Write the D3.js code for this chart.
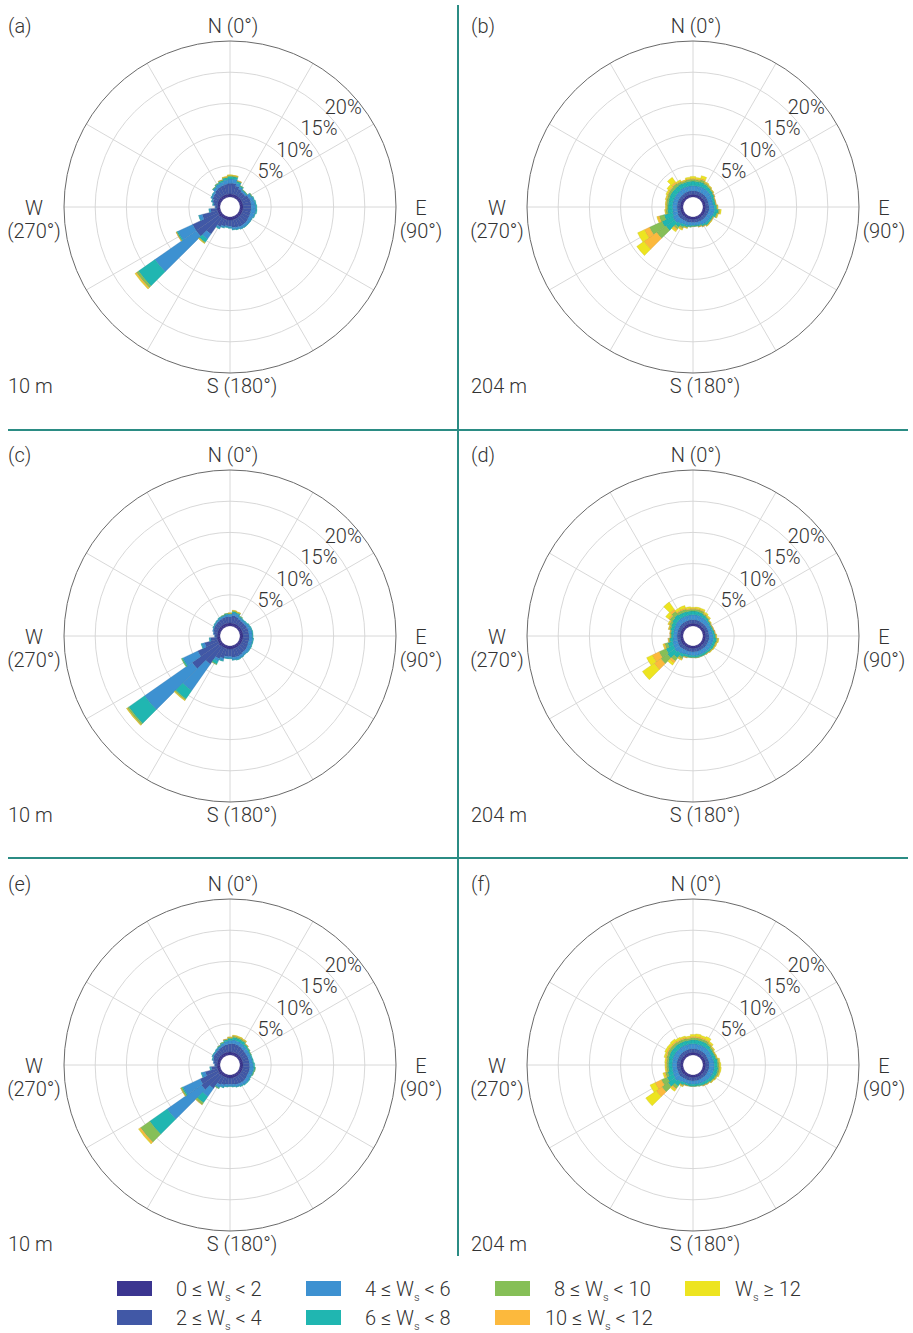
<!DOCTYPE html>
<html>
<head>
<meta charset="utf-8">
<script src="https://cdn.jsdelivr.net/npm/d3@7"></script>
<style>
  body { margin: 0; background: #fff; }
  svg text { font-family: Roboto, "Open Sans", sans-serif; font-weight: 300; fill: #333; }
</style>
</head>
<body>
<script>
// wind direction bins (deg, bin centre), 10 deg wide
const directions = [0,10,20,30,40,50,60,70,80,90,100,110,120,130,140,150,160,170,
                    180,190,200,210,220,230,240,250,260,270,280,290,300,310,320,330,340,350];

const speedKeys = ["c1","c2","c3","c4","c5","c6","c7"];
const speedColors = ["#3b3590","#4158a6","#3d91d1","#20b6b1","#86bf57","#fcb93d","#ede420"];
const legendPre = ["0 \u2264 W","2 \u2264 W","4 \u2264 W","6 \u2264 W","8 \u2264 W","10 \u2264 W","W"];
const legendPost = [" < 2"," < 4"," < 6"," < 8"," < 10"," < 12"," \u2265 12"];

const freqTicks = [5, 10, 15, 20];
const freqLabels = ["5%", "10%", "15%", "20%"];
const spokeAngles = [0,30,60,90,120,150,180,210,240,270,300,330];

// frequencies (%) per speed class, one value per direction
// (a) 10 m
const a_c1 = [0.5,0.5,0.5,0.5,0.5,0.5,0.5,0.5,0.5,0.5,0.5,0.5,0.5,0.5,0.5,0.5,0.5,0.5,0.5,0.5,0.5,0.5,0.5,0.6,0.5,0.5,0.5,0.4,0.4,0.45,0.5,0.5,0.5,0.5,0.5,0.5];
const a_c2 = [1.7,1.7,1.4,1.1,0.9,0.9,1.2,1.3,1.3,1.3,1.3,1.3,1.3,1.4,1.4,1.4,1.3,1.2,1.0,0.95,1.1,1.4,3.2,4.4,4.5,2.5,1.0,0.35,0.6,0.8,1.0,1.05,1.3,1.45,1.5,1.6];
const a_c3 = [0.7,0.7,0.5,0.4,0.3,0.3,0.45,0.55,0.65,0.75,0.8,0.7,0.55,0.45,0.45,0.4,0.35,0.35,0.25,0.2,0.25,0.3,1.0,8.1,2.6,0.55,0.25,0.05,0.15,0.2,0.25,0.3,0.45,0.5,0.55,0.65];
const a_c4 = [0.4,0.35,0.25,0.15,0.1,0.1,0.12,0.12,0.15,0.15,0.15,0.1,0.05,0.05,0.05,0.05,0.05,0.05,0.05,0.05,0.05,0.1,0.6,3.2,0.2,0.05,0.05,0,0.05,0.05,0.05,0.05,0.1,0.15,0.25,0.35];
const a_c5 = [0.15,0.15,0.1,0.05,0.05,0.03,0.03,0,0,0,0,0,0,0,0,0,0,0,0,0,0,0,0.15,0.4,0.1,0,0,0,0,0,0,0,0.05,0.05,0.1,0.1];
const a_c6 = [0.05,0.05,0.05,0,0,0,0,0,0,0,0,0,0,0,0,0,0,0,0,0,0,0,0.05,0.2,0.05,0,0,0,0,0,0,0,0,0,0.03,0.05];
const a_c7 = [0.05,0.05,0,0,0,0,0,0,0,0,0,0,0,0,0,0,0,0,0,0,0,0,0.05,0.1,0,0,0,0,0,0,0,0,0,0,0,0.05];

// (b) 204 m
const b_c1 = [0.45,0.45,0.45,0.45,0.45,0.45,0.45,0.45,0.45,0.45,0.45,0.45,0.45,0.45,0.45,0.45,0.45,0.45,0.45,0.45,0.45,0.45,0.45,0.5,0.5,0.45,0.45,0.45,0.45,0.45,0.45,0.45,0.45,0.45,0.45,0.45];
const b_c2 = [0.55,0.55,0.55,0.55,0.55,0.55,0.55,0.5,0.5,0.55,0.55,0.55,0.5,0.5,0.5,0.5,0.45,0.45,0.45,0.45,0.5,0.5,0.55,0.6,0.6,0.55,0.5,0.5,0.5,0.5,0.5,0.5,0.5,0.55,0.55,0.55];
const b_c3 = [0.8,0.8,0.85,0.85,0.85,0.8,0.75,0.7,0.7,0.8,0.9,0.85,0.7,0.7,0.7,0.6,0.5,0.45,0.45,0.5,0.55,0.6,0.75,0.9,0.9,0.8,0.75,0.75,0.75,0.75,0.75,0.75,0.75,0.8,0.8,0.8];
const b_c4 = [0.75,0.7,0.75,0.6,0.5,0.45,0.4,0.35,0.35,0.4,0.6,0.45,0.3,0.3,0.35,0.25,0.2,0.15,0.15,0.2,0.25,0.4,0.6,1.7,1.9,1.4,0.8,0.7,0.7,0.75,0.8,0.8,0.8,0.75,0.7,0.75];
const b_c5 = [0.3,0.3,0.35,0.25,0.2,0.15,0.1,0.1,0.1,0.1,0.2,0.15,0.1,0.1,0.1,0.1,0.1,0.05,0.05,0.05,0.1,0.25,0.4,1.8,2.2,0.8,0.3,0.25,0.3,0.3,0.35,0.4,0.5,0.35,0.25,0.3];
const b_c6 = [0.15,0.15,0.2,0.1,0.1,0.05,0.05,0.05,0.05,0.05,0.1,0.05,0.05,0.05,0.05,0.05,0.05,0,0,0,0.05,0.15,0.3,2.5,0.9,0.3,0.1,0.1,0.1,0.15,0.15,0.2,0.3,0.15,0.1,0.15];
const b_c7 = [0.3,0.2,0.45,0.1,0.05,0.05,0,0,0,0.05,0.15,0.1,0,0.05,0.05,0,0,0,0,0,0.05,0.15,0.2,1.4,1.2,0.1,0.05,0.05,0.05,0.1,0.2,0.4,0.9,0.15,0.05,0.2];

// (c) 10 m
const c_c1 = [0.5,0.5,0.5,0.5,0.5,0.5,0.5,0.5,0.5,0.5,0.5,0.5,0.5,0.5,0.5,0.5,0.5,0.5,0.5,0.5,0.5,0.5,0.5,0.6,0.5,0.5,0.5,0.45,0.45,0.45,0.5,0.5,0.5,0.5,0.5,0.5];
const c_c2 = [1.0,1.2,1.1,0.9,0.85,0.85,0.9,0.95,0.95,0.95,1.0,1.0,1.1,1.2,1.2,1.3,1.4,1.35,1.2,1.2,1.6,1.9,3.4,5.2,3.6,2.1,1.0,0.35,0.55,0.7,0.75,0.8,0.85,0.9,0.95,1.0];
const c_c3 = [0.35,0.45,0.45,0.35,0.3,0.35,0.45,0.5,0.55,0.55,0.6,0.6,0.55,0.5,0.45,0.45,0.45,0.4,0.3,0.3,0.4,0.5,5.2,9.3,2.6,0.5,0.2,0.05,0.1,0.15,0.15,0.2,0.25,0.3,0.3,0.35];
const c_c4 = [0.15,0.2,0.2,0.15,0.1,0.1,0.1,0.1,0.1,0.1,0.1,0.1,0.1,0.05,0.05,0.05,0.05,0.05,0.05,0.05,0.1,0.5,1.6,3.1,0.2,0.1,0.05,0,0,0,0.05,0.05,0.05,0.1,0.1,0.15];
const c_c5 = [0.05,0.1,0.1,0.05,0,0,0,0,0,0,0,0,0,0,0,0,0,0,0,0,0,0.1,0.2,0.3,0.1,0,0,0,0,0,0,0,0,0,0.02,0.05];
const c_c6 = [0.03,0.05,0.05,0,0,0,0,0,0,0,0,0,0,0,0,0,0,0,0,0,0,0,0.1,0.1,0,0,0,0,0,0,0,0,0,0,0,0];
const c_c7 = [0.02,0.05,0.03,0,0,0,0,0,0,0,0,0,0,0,0,0,0,0,0,0,0,0,0.05,0.05,0,0,0,0,0,0,0,0,0,0,0,0];

// (d) 204 m
const d_c1 = [0.45,0.45,0.45,0.45,0.45,0.45,0.45,0.45,0.45,0.45,0.45,0.45,0.45,0.45,0.45,0.45,0.45,0.45,0.45,0.45,0.45,0.45,0.45,0.5,0.5,0.45,0.45,0.45,0.45,0.45,0.45,0.45,0.45,0.45,0.45,0.45];
const d_c2 = [0.55,0.55,0.55,0.5,0.5,0.5,0.5,0.5,0.5,0.55,0.55,0.55,0.55,0.55,0.5,0.5,0.5,0.5,0.5,0.5,0.5,0.5,0.55,0.6,0.55,0.55,0.5,0.5,0.5,0.5,0.5,0.55,0.55,0.55,0.55,0.55];
const d_c3 = [0.8,0.8,0.8,0.75,0.7,0.6,0.55,0.55,0.6,0.65,0.75,0.7,0.7,0.65,0.65,0.65,0.65,0.65,0.6,0.6,0.6,0.7,0.8,0.9,0.85,0.8,0.7,0.6,0.6,0.65,0.7,0.75,0.8,0.8,0.8,0.8];
const d_c4 = [0.6,0.6,0.55,0.45,0.35,0.25,0.2,0.25,0.3,0.35,0.45,0.4,0.4,0.35,0.3,0.3,0.3,0.3,0.3,0.3,0.35,0.5,0.9,1.4,1.3,0.8,0.5,0.35,0.4,0.5,0.6,0.7,0.8,0.65,0.65,0.6];
const d_c5 = [0.3,0.3,0.3,0.2,0.15,0.1,0.1,0.1,0.1,0.1,0.2,0.15,0.1,0.1,0.1,0.05,0.05,0.05,0.05,0.05,0.1,0.3,0.6,1.3,1.2,0.5,0.2,0.15,0.15,0.25,0.35,0.5,0.65,0.4,0.4,0.3];
const d_c6 = [0.15,0.15,0.15,0.1,0.1,0.05,0.05,0.05,0.05,0.05,0.1,0.1,0.05,0.05,0.05,0,0,0,0,0,0.05,0.15,0.4,1.3,1.2,0.2,0.1,0.05,0.05,0.1,0.15,0.25,0.4,0.2,0.2,0.15];
const d_c7 = [0.15,0.2,0.2,0.2,0.15,0.05,0,0,0,0.05,0.05,0.05,0.05,0.05,0,0,0,0,0,0,0,0.1,0.4,2.3,1.0,0.1,0,0,0,0.05,0.1,0.55,1.4,0.35,0.4,0.25];

// (e) 10 m
const e_c1 = [0.5,0.5,0.5,0.5,0.5,0.5,0.5,0.5,0.5,0.5,0.5,0.5,0.5,0.5,0.5,0.5,0.5,0.5,0.5,0.5,0.5,0.5,0.5,0.6,0.5,0.5,0.5,0.45,0.45,0.45,0.5,0.5,0.5,0.5,0.5,0.5];
const e_c2 = [1.3,1.35,1.3,1.2,1.1,1.0,1.0,1.0,1.0,1.05,1.1,1.1,1.1,1.2,1.25,1.2,1.15,1.05,1.0,1.05,1.2,1.4,2.5,3.4,3.2,2.0,0.9,0.35,0.55,0.75,0.85,0.85,0.9,1.0,1.1,1.2];
const e_c3 = [0.55,0.6,0.6,0.6,0.55,0.55,0.5,0.5,0.55,0.6,0.65,0.6,0.55,0.55,0.5,0.45,0.4,0.35,0.3,0.35,0.4,0.5,1.6,6.7,3.0,0.6,0.2,0.05,0.1,0.15,0.2,0.2,0.25,0.3,0.4,0.5];
const e_c4 = [0.3,0.4,0.4,0.4,0.3,0.25,0.15,0.15,0.15,0.2,0.2,0.15,0.1,0.1,0.1,0.1,0.05,0.05,0.05,0.05,0.1,0.15,1.2,3.4,0.2,0.1,0.05,0,0,0.05,0.05,0.05,0.1,0.1,0.15,0.25];
const e_c5 = [0.15,0.2,0.2,0.2,0.1,0.05,0.05,0,0,0,0.05,0.05,0,0,0,0,0,0,0,0,0,0.05,0.35,1.8,0.2,0,0,0,0,0,0,0,0,0.05,0.05,0.1];
const e_c6 = [0.05,0.1,0.1,0.1,0.05,0,0,0,0,0,0,0,0,0,0,0,0,0,0,0,0,0,0.05,0.3,0.05,0,0,0,0,0,0,0,0,0,0,0.03];
const e_c7 = [0.05,0.05,0.05,0.05,0,0,0,0,0,0,0,0,0,0,0,0,0,0,0,0,0,0,0,0.1,0,0,0,0,0,0,0,0,0,0,0,0];

// (f) 204 m
const f_c1 = [0.45,0.45,0.45,0.45,0.45,0.45,0.45,0.45,0.45,0.45,0.45,0.45,0.45,0.45,0.45,0.45,0.45,0.45,0.45,0.45,0.45,0.45,0.45,0.5,0.5,0.45,0.45,0.45,0.45,0.45,0.45,0.45,0.45,0.45,0.45,0.45];
const f_c2 = [0.55,0.55,0.55,0.55,0.55,0.55,0.5,0.5,0.55,0.55,0.55,0.55,0.55,0.55,0.5,0.5,0.5,0.5,0.5,0.5,0.5,0.5,0.55,0.6,0.55,0.55,0.55,0.55,0.55,0.55,0.55,0.55,0.55,0.55,0.55,0.55];
const f_c3 = [0.8,0.8,0.8,0.8,0.8,0.75,0.75,0.75,0.8,0.8,0.85,0.85,0.8,0.75,0.7,0.65,0.6,0.55,0.55,0.55,0.55,0.6,0.75,0.9,0.85,0.8,0.75,0.75,0.75,0.8,0.8,0.8,0.8,0.8,0.8,0.8];
const f_c4 = [0.65,0.65,0.65,0.65,0.55,0.45,0.45,0.5,0.55,0.55,0.6,0.6,0.55,0.5,0.45,0.4,0.35,0.3,0.3,0.3,0.3,0.4,0.8,1.3,1.1,0.8,0.6,0.6,0.6,0.65,0.7,0.7,0.7,0.65,0.65,0.6];
const f_c5 = [0.35,0.35,0.35,0.35,0.3,0.25,0.15,0.15,0.2,0.25,0.25,0.25,0.2,0.15,0.1,0.1,0.05,0.05,0.05,0.05,0.05,0.15,0.5,1.2,1.0,0.4,0.3,0.3,0.3,0.35,0.4,0.4,0.4,0.35,0.35,0.3];
const f_c6 = [0.2,0.2,0.2,0.2,0.15,0.1,0.05,0.05,0.1,0.1,0.1,0.1,0.05,0.05,0.05,0.05,0,0,0,0,0.05,0.1,0.3,1.1,1.1,0.2,0.15,0.15,0.15,0.2,0.2,0.2,0.2,0.2,0.2,0.15];
const f_c7 = [0.3,0.4,0.3,0.45,0.2,0.1,0.05,0.05,0.1,0.15,0.15,0.1,0.05,0.05,0,0,0,0,0,0,0,0.05,0.2,2.05,0.9,0.2,0.1,0.1,0.15,0.2,0.3,0.3,0.4,0.3,0.2,0.2];

const panels = [
  { tag: "(a)", height: "10 m",  series: [a_c1,a_c2,a_c3,a_c4,a_c5,a_c6,a_c7] },
  { tag: "(b)", height: "204 m", series: [b_c1,b_c2,b_c3,b_c4,b_c5,b_c6,b_c7] },
  { tag: "(c)", height: "10 m",  series: [c_c1,c_c2,c_c3,c_c4,c_c5,c_c6,c_c7] },
  { tag: "(d)", height: "204 m", series: [d_c1,d_c2,d_c3,d_c4,d_c5,d_c6,d_c7] },
  { tag: "(e)", height: "10 m",  series: [e_c1,e_c2,e_c3,e_c4,e_c5,e_c6,e_c7] },
  { tag: "(f)", height: "204 m", series: [f_c1,f_c2,f_c3,f_c4,f_c5,f_c6,f_c7] }
];

var width = 913, height = 1333;
const colX = [230, 693], rowY = [207, 636, 1065];
const teal = "#2b8c84";

var svg = d3.select("body").append("svg")
    .attr("width", width)
    .attr("height", height);
svg.append("rect").attr("width", width).attr("height", height).attr("fill", "#fff");

const r = d3.scaleLinear().domain([0, 25]).range([10, 166]);
const rad = d => d * Math.PI / 180;
const arc = d3.arc();
const stack = d3.stack().keys(speedKeys);

panels.forEach((p, i) => {
    const cx = colX[i % 2], cy = rowY[Math.floor(i / 2)];
    const g = svg.append("g").attr("transform", "translate(" + cx + "," + cy + ")");

    // grid
    g.selectAll("circle.ring")
        .data(freqTicks)
        .enter().append("circle")
        .attr("r", d => r(d))
        .attr("fill", "none")
        .attr("stroke", "#d4d4d4")
        .attr("stroke-width", 0.9);
    g.selectAll("line.spoke")
        .data(spokeAngles)
        .enter().append("line")
        .attr("x1", d => r(0) * Math.sin(rad(d)))
        .attr("y1", d => -r(0) * Math.cos(rad(d)))
        .attr("x2", d => r(25) * Math.sin(rad(d)))
        .attr("y2", d => -r(25) * Math.cos(rad(d)))
        .attr("stroke", "#d4d4d4")
        .attr("stroke-width", 0.9);
    g.append("circle")
        .attr("r", r(25))
        .attr("fill", "none")
        .attr("stroke", "#6a6a6a")
        .attr("stroke-width", 1);

    // stacked bars
    const rows = directions.map((dir, k) => {
        const row = { dir: dir };
        speedKeys.forEach((key, c) => { row[key] = p.series[c][k]; });
        return row;
    });
    const layers = stack(rows);
    layers.forEach((layer, c) => {
        g.append("g")
            .selectAll("path")
            .data(layer.filter(s => s[1] > s[0]))
            .enter().append("path")
            .attr("d", s => arc({
                innerRadius: r(s[0]),
                outerRadius: r(s[1]),
                startAngle: rad(s.data.dir - 5),
                endAngle: rad(s.data.dir + 5)
            }))
            .attr("fill", speedColors[c])
            .attr("stroke", d3.color(speedColors[c]).darker(0.6))
            .attr("stroke-width", 0.3);
    });

    // frequency labels
    g.selectAll("text.freq")
        .data(freqTicks)
        .enter().append("text")
        .attr("x", d => (r(d) * 1.04 + 11) * Math.sin(rad(48.5)))
        .attr("y", d => -(r(d) * 1.04 + 11) * Math.cos(rad(48.5)))
        .attr("text-anchor", "middle")
        .attr("dominant-baseline", "central")
        .style("font-size", "20px")
        .text((d, k) => freqLabels[k]);

    // compass labels
    const lab = (x, y, t, anchor) => g.append("text")
        .attr("x", x).attr("y", y)
        .attr("text-anchor", anchor || "middle")
        .style("font-size", "20px")
        .text(t);
    lab(3, -174, "N (0\u00b0)");
    lab(12, 186, "S (180\u00b0)");
    lab(191, 8, "E");
    lab(191, 31, "(90\u00b0)");
    lab(-196, 8, "W");
    lab(-196, 31, "(270\u00b0)");
    lab(-222, -174, p.tag, "start");
    lab(-222, 186, p.height, "start");
});

// panel separators
svg.append("line")
    .attr("x1", 458).attr("x2", 458).attr("y1", 5).attr("y2", 1256)
    .attr("stroke", teal).attr("stroke-width", 2);
[430, 858].forEach(y => {
    svg.append("line")
        .attr("x1", 8).attr("x2", 908).attr("y1", y).attr("y2", y)
        .attr("stroke", teal).attr("stroke-width", 2);
});

// legend
const legend = svg.append("g").attr("class", "legend");
const legX = [117, 306, 495, 685], legY = [1281, 1310];
speedKeys.forEach((key, c) => {
    const x = legX[Math.floor(c / 2)], y = legY[c % 2];
    legend.append("rect")
        .attr("x", x).attr("y", y)
        .attr("width", 35).attr("height", 15)
        .attr("fill", speedColors[c]);
    const pad = /^[0-9] /.test(legendPre[c]) ? 9 : 0;
    const t = legend.append("text")
        .attr("x", x + 50 + pad)
        .attr("y", y + 15)
        .style("font-size", "20px");
    t.append("tspan").text(legendPre[c]);
    t.append("tspan").attr("dy", 5).style("font-size", "11px").text("s");
    t.append("tspan").attr("dy", -5).text(legendPost[c]);
});
</script>
</body>
</html>
